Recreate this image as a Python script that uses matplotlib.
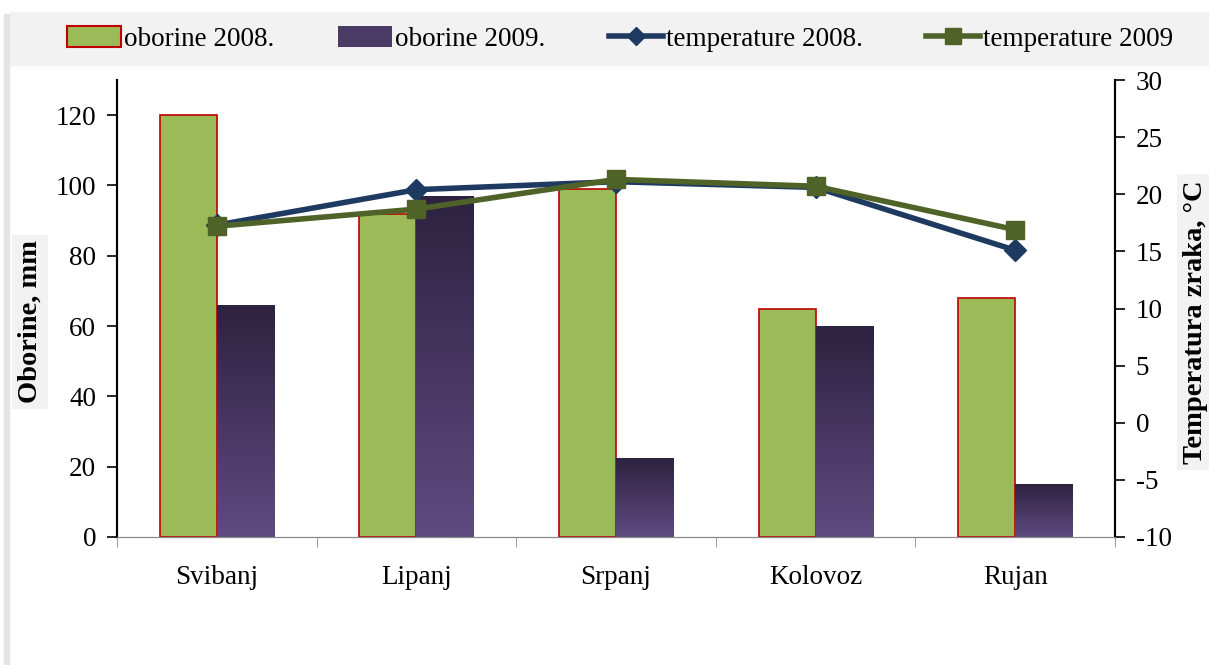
import numpy as np
import matplotlib.pyplot as plt
from matplotlib.patches import Rectangle
from matplotlib.lines import Line2D
from matplotlib.colors import LinearSegmentedColormap

plt.rcParams['font.family'] = ['Liberation Serif', 'DejaVu Serif']
plt.rcParams['axes.unicode_minus'] = False

# data
months = ['Svibanj', 'Lipanj', 'Srpanj', 'Kolovoz', 'Rujan']
rain_2008 = [120, 92, 99, 65, 68]
rain_2009 = [66, 97, 22.5, 60, 15]
temp_2008 = [17.3, 20.4, 21.1, 20.6, 15.1]
temp_2009 = [17.2, 18.7, 21.3, 20.7, 16.9]

GREEN = '#9bbb59'
RED = '#c00000'
BLUE = '#1f3a60'
OLIVE = '#4f6228'
FS = 19.5

fig = plt.figure(figsize=(12.09, 6.65), dpi=100)

# legend band and left shadow
fig.patches.append(Rectangle((10/1209, 1-65/665), 1-10/1209, 53/665,
                             transform=fig.transFigure, color='#f2f2f2', zorder=0))
fig.patches.append(Rectangle((4/1209, 0), 5/1209, 1-14/665,
                             transform=fig.transFigure, color='#e4e4e4', zorder=0))

ax = fig.add_axes([117/1209, 1-537/665, (1115-117)/1209, (537-80)/665])
ax.patch.set_alpha(0)
ax2 = ax.twinx()

x = np.arange(len(months))
w = 0.286
ax.bar(x - w/2, rain_2008, w, color=GREEN, edgecolor=RED, linewidth=1.2, zorder=2)
bars09 = ax.bar(x + w/2, rain_2009, w, color='none', edgecolor='none', zorder=2)

# vertical gradient for the 2009 bars
cmap = LinearSegmentedColormap.from_list('purp', ['#5f4b80', '#2d2240'])
grad = np.linspace(0, 1, 256).reshape(-1, 1)
for b in bars09:
    x0, y0 = b.get_x(), b.get_y()
    im = ax.imshow(grad, cmap=cmap, aspect='auto', origin='lower',
                   extent=[x0, x0 + b.get_width(), y0, y0 + b.get_height()], zorder=2)
    im.set_clip_path(b)

ax.set_xlim(-0.5, len(months) - 0.5)
ax.set_ylim(0, 130)
ax.set_yticks(range(0, 121, 20))
ax.set_xticks(x)
ax.set_xticklabels(months)
ax.set_xticks(np.arange(-0.5, len(months), 1), minor=True)
ax.tick_params(axis='x', which='major', length=0, pad=20, labelsize=FS)
ax.tick_params(axis='x', which='minor', length=7, color='#888888', direction='out')
ax.tick_params(axis='y', length=7, width=1.2, labelsize=FS, pad=8)

ax2.plot(x, temp_2008, color=BLUE, linewidth=4, marker='D', markersize=11, zorder=3)
ax2.plot(x, temp_2009, color=OLIVE, linewidth=4, marker='s', markersize=13, zorder=3)
ax2.set_ylim(-10, 30)
ax2.set_yticks(range(-10, 31, 5))
ax2.tick_params(axis='y', length=7, width=1.2, labelsize=FS, pad=8)

for a in (ax, ax2):
    a.spines['top'].set_visible(False)
    a.spines['bottom'].set_color('#888888')
    a.spines['left'].set_linewidth(1.5)
    a.spines['right'].set_linewidth(1.5)

fig.text(30/1209, 1-322/665, 'Oborine, mm', rotation=90, ha='center', va='center',
         fontsize=20.5, fontweight='bold',
         bbox=dict(facecolor='#f2f2f2', edgecolor='none', pad=4))
fig.text(1195/1209, 1-322/665, 'Temperatura zraka, °C', rotation=90, ha='center', va='center',
         fontsize=20.5, fontweight='bold',
         bbox=dict(facecolor='#f2f2f2', edgecolor='none', pad=4))

handles = [
    Rectangle((0, 0), 1, 1, facecolor=GREEN, edgecolor=RED, linewidth=1.5),
    Rectangle((0, 0), 1, 1, facecolor='#4a3a66', edgecolor='none'),
    Line2D([], [], color=BLUE, linewidth=4, marker='D', markersize=9),
    Line2D([], [], color=OLIVE, linewidth=4, marker='s', markersize=11),
]
labels = ['oborine 2008.', 'oborine 2009.', 'temperature 2008.', 'temperature 2009']
fig.legend(handles, labels, loc='center', bbox_to_anchor=(0.513, 1-39/665), ncol=4,
           frameon=False, fontsize=FS, handlelength=2.0, handleheight=0.8,
           handletextpad=0.1, columnspacing=2.35)

fig.savefig('out.png', dpi=100)
